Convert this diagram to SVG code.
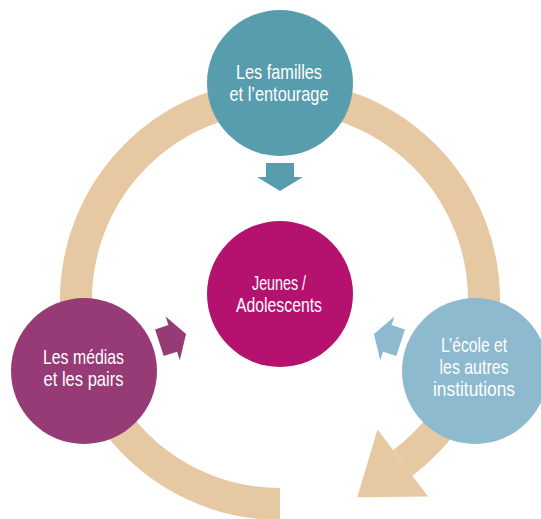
<svg xmlns="http://www.w3.org/2000/svg" width="541" height="519" viewBox="0 0 541 519">
  <style>
    .lbl { font-family: "Liberation Sans Narrow", "Liberation Sans", "DejaVu Sans Condensed", sans-serif; font-size: 21px; fill: #ffffff; text-anchor: middle; }
    .ring { fill: none; stroke: #e6c8a3; stroke-width: 32; }
  </style>
  <defs>
    <polygon id="arr" points="0,-14 14,-14 14,-23 28,0 14,23 14,14 0,14"/>
  </defs>
  <rect width="541" height="519" fill="#ffffff"/>
  <g id="connectors">
    <path class="ring" d="M 280 504 A 204 204 0 1 1 402.8 462.9"/>
    <polygon points="377.5,429.4 428.1,496.4 357.3,497.2" fill="#e6c8a3"/>
    <use href="#arr" transform="translate(280,163) rotate(90)" fill="#579dae"/>
    <use href="#arr" transform="translate(159.4,342.7) rotate(-18)" fill="#963b76"/>
    <use href="#arr" transform="translate(400.6,342.7) rotate(198)" fill="#8dbace"/>
  </g>
  <g id="node-familles">
    <circle cx="280" cy="83" r="73" fill="#579dae"/>
    <text class="lbl" x="279" y="78.5" textLength="86" lengthAdjust="spacingAndGlyphs">Les familles</text>
    <text class="lbl" x="279" y="100.5" textLength="99" lengthAdjust="spacingAndGlyphs">et l’entourage</text>
  </g>
  <g id="node-jeunes">
    <circle cx="280" cy="294" r="73" fill="#b5126f"/>
    <text class="lbl" x="279" y="290" textLength="54" lengthAdjust="spacingAndGlyphs">Jeunes /</text>
    <text class="lbl" x="279" y="312" textLength="86" lengthAdjust="spacingAndGlyphs">Adolescents</text>
  </g>
  <g id="node-medias">
    <circle cx="84" cy="371" r="73" fill="#963b76"/>
    <text class="lbl" x="83.5" y="364" textLength="81" lengthAdjust="spacingAndGlyphs">Les médias</text>
    <text class="lbl" x="83.5" y="386" textLength="80" lengthAdjust="spacingAndGlyphs">et les pairs</text>
  </g>
  <g id="node-ecole">
    <circle cx="475" cy="371" r="73" fill="#8dbace"/>
    <text class="lbl" x="474" y="352" textLength="66" lengthAdjust="spacingAndGlyphs">L’école et</text>
    <text class="lbl" x="474" y="374" textLength="69" lengthAdjust="spacingAndGlyphs">les autres</text>
    <text class="lbl" x="474" y="396" textLength="82" lengthAdjust="spacingAndGlyphs">institutions</text>
  </g>
</svg>
